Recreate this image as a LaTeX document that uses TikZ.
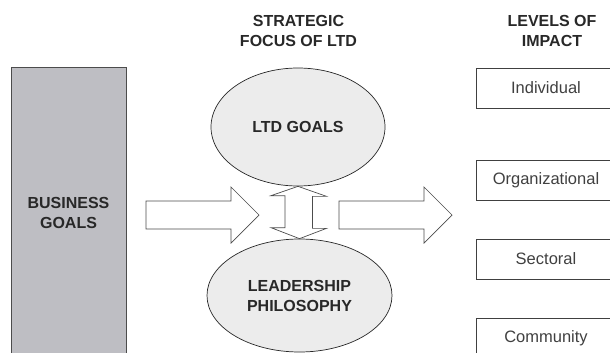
\documentclass[tikz,border=0pt]{standalone}
\usepackage{fontspec}
\setmainfont{Liberation Sans}
\usepackage{tikz}
\usetikzlibrary{calc, shapes.geometric}

\definecolor{bizgray}{RGB}{190,190,195}
\definecolor{ovalgray}{RGB}{236,236,236}
\definecolor{inkgray}{RGB}{40,40,40}

\tikzset{
    heading/.style={align=center, font=\fontsize{16}{20}\selectfont\bfseries, text=inkgray},
    bizbox/.style={draw=black!70, line width=1pt, fill=bizgray, minimum width=115pt, minimum height=290pt,
        align=center, font=\fontsize{16}{20}\selectfont\bfseries, text=inkgray, inner sep=0pt},
    oval/.style={ellipse, draw=inkgray, line width=0.7pt, fill=ovalgray, inner sep=0pt,
        align=center, font=\fontsize{16}{20}\selectfont\bfseries, text=inkgray},
    levelbox/.style={draw=black!75, line width=0.8pt, minimum width=140pt, minimum height=40pt,
        inner sep=0pt, font=\fontsize{16.5}{20}\selectfont, text=black!75},
    blockarrow/.style={draw=black!70, line width=0.7pt, fill=white, line join=miter}
}

\begin{document}
\begin{tikzpicture}[x=1pt, y=-1pt]
        \useasboundingbox (0,0) rectangle (610,353);
        \clip (0,0) rectangle (610,353);

        % headings
        \node[heading] (hfocus) at (298.5,31) {STRATEGIC\\FOCUS OF LTD};
        \node[heading] (himpact) at (552,31) {LEVELS OF\\IMPACT};

        % left column
        \node[bizbox] (biz) at (68.5,213) {BUSINESS\\GOALS};

        % strategic focus
        \node[oval, minimum width=174pt, minimum height=118pt] (ltd) at (298,127) {LTD GOALS};
        \node[oval, minimum width=185pt, minimum height=113pt] (phil) at (299.5,295.5) {LEADERSHIP\\PHILOSOPHY};

        % levels of impact
        \node[levelbox] (indiv) at (546,88) {Individual};
        \node[levelbox] (org) at (546,180) {Organizational};
        \node[levelbox] (sect) at (546,259) {Sectoral};
        \node[levelbox] (comm) at (546,338) {Community};

        % block arrows
        \coordinate (inarrow) at (146,215);
        \coordinate (outarrow) at (339,215);
        \foreach \p in {inarrow,outarrow}
            \draw[blockarrow] ($(\p)+(0,-14)$) -- ++(85,0) -- ++(0,-14) -- ++(28,28)
                -- ++(-28,28) -- ++(0,-14) -- ++(-85,0) -- cycle;

        % link between the two ovals
        \draw[blockarrow] (ltd.south) -- ++(28.5,10) -- ++(-14,0) -- ++(0,32) -- ++(14,0)
            -- (phil.north) -- ++(-28.5,-11) -- ++(14,0) -- ++(0,-32) -- ++(-14,0) -- cycle;
\end{tikzpicture}
\end{document}
